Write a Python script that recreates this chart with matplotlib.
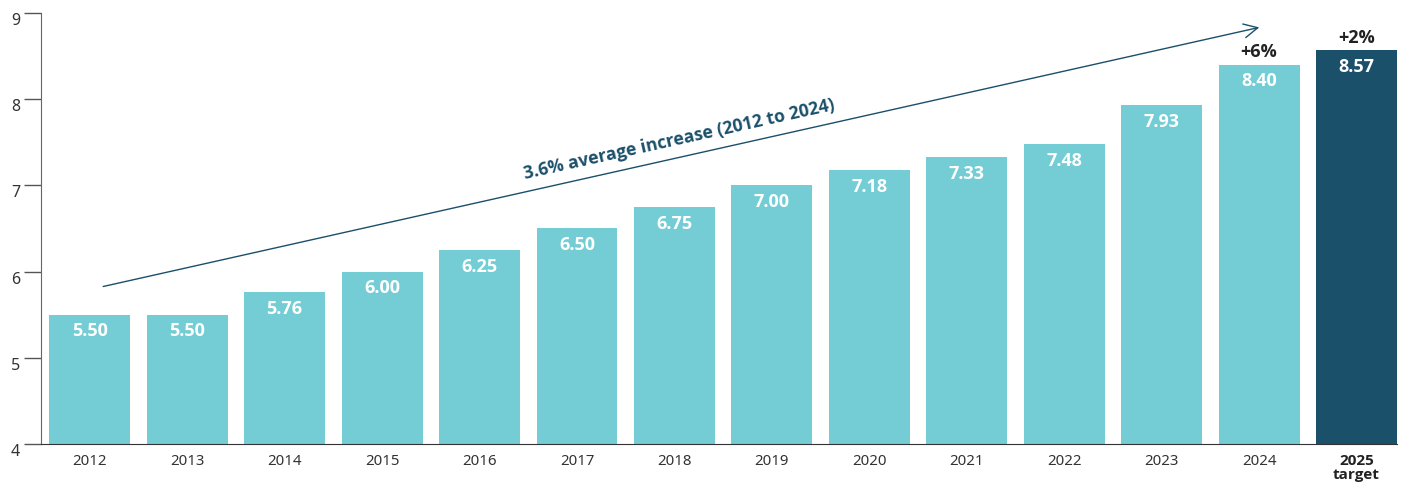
import matplotlib
matplotlib.use("Agg")
import matplotlib.pyplot as plt

years = ["2012", "2013", "2014", "2015", "2016", "2017", "2018", "2019",
         "2020", "2021", "2022", "2023", "2024", "2025\ntarget"]
values = [5.50, 5.50, 5.76, 6.00, 6.25, 6.50, 6.75, 7.00, 7.18, 7.33, 7.48, 7.93, 8.40, 8.57]
value_labels = ["5.50", "5.50", "5.76", "6.00", "6.25", "6.50", "6.75", "7.00",
                "7.18", "7.33", "7.48", "7.93", "8.40", "8.57"]
change_labels = {12: "+6%", 13: "+2%"}
trend_text = "3.6% average increase (2012 to 2024)"

light = "#74CDD5"
dark = "#1B506B"
BOLD = ['Open Sans', 'DejaVu Sans']

plt.rcParams['font.family'] = ['Noto Sans', 'DejaVu Sans']

fig = plt.figure(figsize=(14.09, 4.86), dpi=100)
ax = fig.add_axes([41/1409, 1-444/486, (1397-41)/1409, (444-13)/486])

x = list(range(len(years)))
colors = [light]*(len(years)-1) + [dark]
ax.bar(x, values, width=0.83, color=colors, bottom=0)

ax.set_ylim(4, 9)
ax.set_xlim(-0.5, 13.415)
ax.set_yticks([4, 5, 6, 7, 8, 9])
ax.set_yticklabels(["4", "5", "6", "7", "8", "9"])
for lab in ax.get_yticklabels():
    lab.set_verticalalignment('top')
ax.tick_params(axis='y', length=12, width=1, color='#555555', labelsize=11.5,
               labelcolor='#333333', pad=3)
ax.set_xticks(x)
ax.set_xticklabels(years)
ax.tick_params(axis='x', length=0, labelsize=10.8, labelcolor='#333333', pad=7)
for i, lab in enumerate(ax.get_xticklabels()):
    if i == len(years) - 1:
        lab.set_fontfamily(BOLD)
        lab.set_fontweight('bold')
        lab.set_fontsize(11)
        lab.set_color('#222222')
        lab.set_linespacing(1.0)

ax.spines['top'].set_visible(False)
ax.spines['right'].set_visible(False)
ax.spines['left'].set_color('#666666')
ax.spines['bottom'].set_color('#333333')

for i, (v, s) in enumerate(zip(values, value_labels)):
    ax.text(i, v - 0.09, s, ha='center', va='top', color='white',
            fontsize=13, fontweight='bold', family=BOLD)

for i, s in change_labels.items():
    ax.text(i, values[i] + 0.04, s, ha='center', va='bottom', color='#222222',
            fontsize=13, fontweight='bold', family=BOLD)

ax.annotate("", xy=(12.03, 8.84), xytext=(0.11, 5.82),
            arrowprops=dict(arrowstyle='->', color=dark, lw=1.0,
                            mutation_scale=25))
ax.text(6.05, 7.53, trend_text, rotation=12.6, rotation_mode='anchor',
        ha='center', va='center', color=dark, fontsize=12.7, fontweight='bold',
        family=BOLD)

fig.savefig("out.png", dpi=100)
